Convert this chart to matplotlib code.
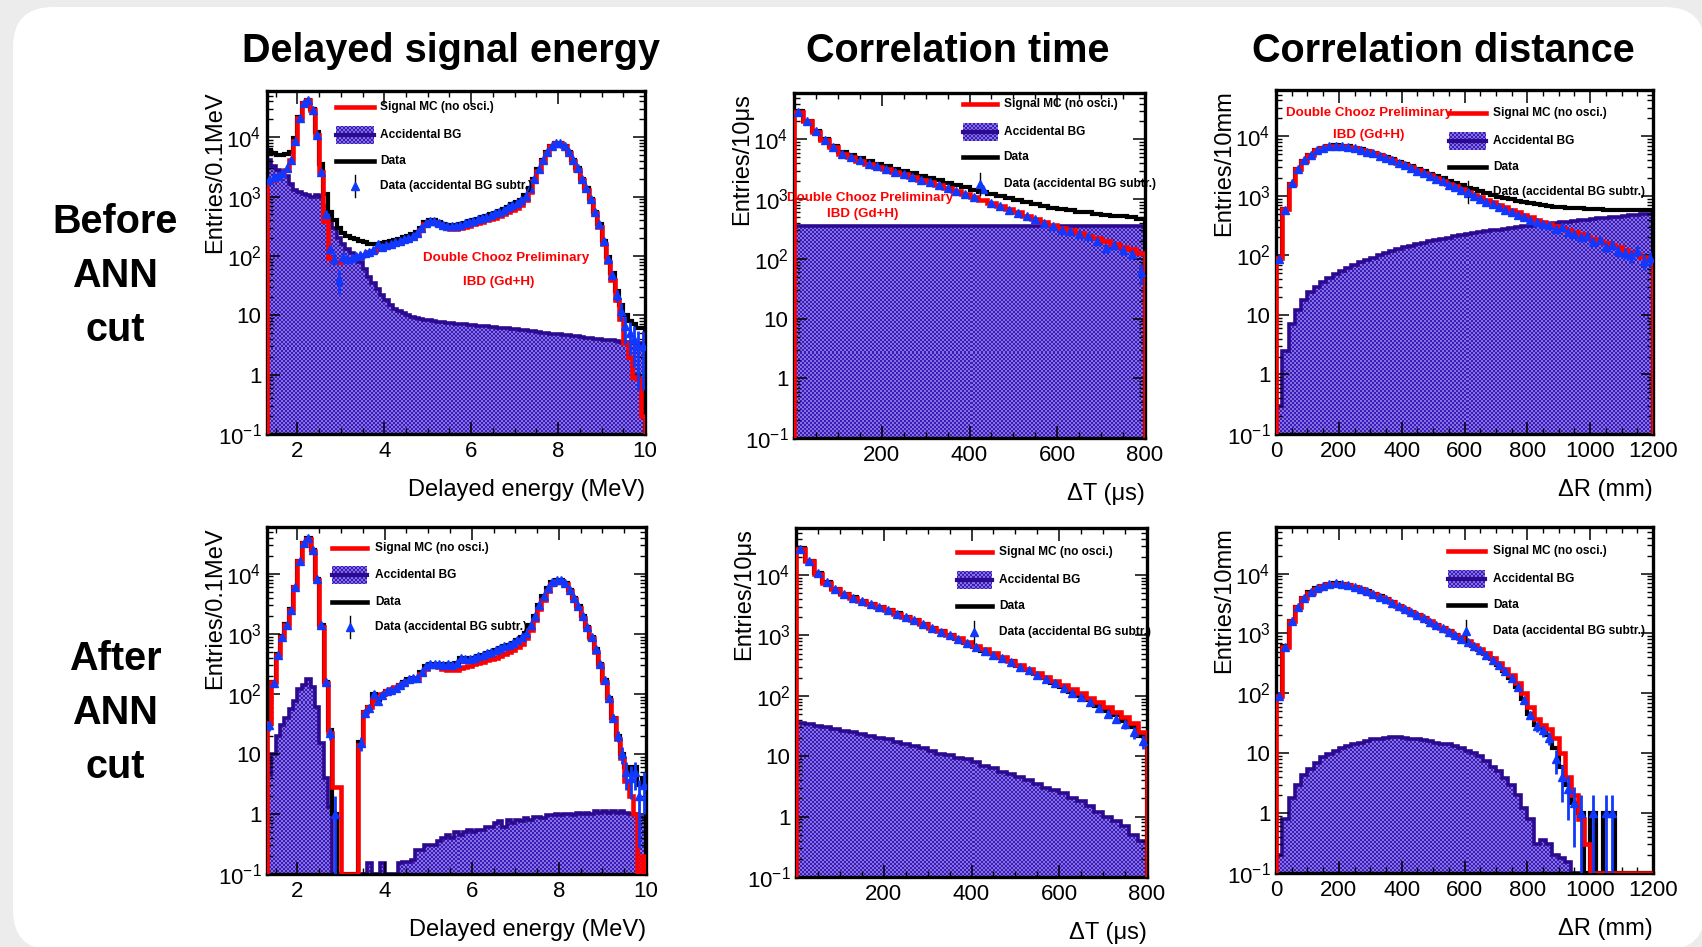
import numpy as np
import matplotlib
matplotlib.use('Agg')
import matplotlib.pyplot as plt
from matplotlib.patches import Rectangle, FancyBboxPatch
from matplotlib.colors import ListedColormap
from matplotlib.transforms import IdentityTransform
from matplotlib.ticker import MultipleLocator, LogLocator, NullFormatter

plt.rcParams['font.family'] = ['Liberation Sans', 'DejaVu Sans']
plt.rcParams['mathtext.fontset'] = 'custom'
plt.rcParams['mathtext.rm'] = 'Liberation Sans'
plt.rcParams['mathtext.it'] = 'Liberation Sans:italic'

##############################################################################
# data
# energy: 0.1 MeV bins from 1.3 to 10.0, dT: 20 us bins, dR: 20 mm bins

e_edges = np.round(np.linspace(1.3, 10.0, 88), 2)
t_edges = np.linspace(0, 800, 41)
r_edges = np.linspace(0, 1200, 61)

# before ANN cut, delayed energy
e_mc_before = [1800, 1900, 2100, 2400, 2800, 4100, 8500, 21000, 37000, 42000,
               29000, 11000, 2600, 380, 92, 80, 80, 85, 88, 90,
               95, 100, 105, 115, 122, 130, 138, 145, 152, 160,
               168, 175, 185, 200, 225, 275, 340, 375, 375, 340,
               310, 290, 280, 280, 290, 310, 320, 340, 355, 375,
               400, 420, 440, 470, 500, 550, 600, 650, 720, 880,
               1200, 1800, 2700, 3900, 5400, 7000, 7900, 7900, 7000, 5400,
               3900, 2800, 1900, 1300, 880, 520, 310, 160, 80, 40,
               18, 8.5, 3.4, 2.0, 0.9, 0.85, 0.2]
e_bg_before = [4100, 3300, 2800, 2500, 2200, 1600, 1300, 1200, 1100, 1050,
               1000, 1050, 1000, 700, 450, 300, 200, 160, 130, 110,
               95, 80, 60, 45, 35, 28, 22, 18, 15, 13,
               12, 11, 10, 9.5, 9.0, 8.6, 8.4, 8.2, 8.0, 7.8,
               7.6, 7.4, 7.3, 7.2, 7.1, 7.0, 6.9, 6.8, 6.7, 6.6,
               6.5, 6.4, 6.3, 6.2, 6.1, 6.0, 5.9, 5.8, 5.7, 5.6,
               5.5, 5.4, 5.2, 5.1, 5.0, 4.9, 4.8, 4.8, 4.7, 4.6,
               4.5, 4.4, 4.3, 4.2, 4.1, 4.0, 4.0, 3.9, 3.8, 3.8,
               3.7, 3.6, 3.6, 3.5, 3.4, 3.4, 3.3]
e_data_before = [6000, 5500, 5000, 5000, 5300, 5700, 9800, 22000, 38000, 43000,
                 30000, 12000, 3600, 1100, 560, 400, 290, 240, 215, 200,
                 190, 180, 170, 160, 160, 160, 165, 170, 175, 185,
                 195, 205, 215, 230, 250, 300, 370, 400, 400, 370,
                 345, 335, 330, 335, 345, 365, 385, 405, 425, 445,
                 470, 500, 530, 570, 610, 670, 740, 800, 880, 1050,
                 1400, 2000, 2900, 4100, 5600, 7200, 8100, 8100, 7200, 5700,
                 4100, 3000, 2000, 1400, 920, 560, 340, 180, 95, 52,
                 26, 15, 10, 8, 7, 6, 6]
e_sub_before = [1900, 2100, 2200, 2500, 3000, 4100, 8500, 21000, 37000, 42000,
                29000, 11000, 2600, 500, 130, 90, 40, 95, 90, 92,
                100, 105, 110, 115, 125, 160, 140, 150, 160, 170,
                180, 190, 200, 215, 240, 290, 360, 390, 390, 360,
                335, 325, 320, 325, 335, 360, 375, 395, 415, 435,
                460, 490, 520, 560, 600, 660, 730, 790, 870, 1040,
                1400, 2000, 2900, 4100, 5600, 7200, 8100, 8100, 7200, 5700,
                4100, 3000, 2000, 1400, 920, 560, 340, 175, 90, 48,
                22, 12, 6.5, 5, 4, 3, 3]

# after ANN cut, delayed energy
e_mc_after = [33, 158, 450, 900, 1400, 2500, 6000, 16000, 32000, 38000,
              24000, 8000, 1300, 150, 22, 2.8, 2.8, 0, 0, 0,
              0, 14, 50, 60, 80, 90, 100, 110, 120, 130,
              140, 150, 165, 175, 185, 210, 260, 290, 300, 280,
              260, 250, 245, 250, 265, 280, 295, 310, 325, 340,
              360, 380, 400, 430, 460, 500, 540, 600, 680, 850,
              1150, 1700, 2600, 3700, 5200, 6700, 7600, 7600, 6700, 5200,
              3800, 2700, 1800, 1250, 850, 500, 300, 160, 80, 40,
              18, 8.5, 3.5, 2.0, 1.0, 0, 0.2]
e_bg_after = [4.5, 10, 20, 30, 40, 55, 75, 120, 140, 180,
              130, 60, 15, 4, 1.3, 0, 0, 0, 0, 0,
              0, 0, 0.1, 0.15, 0.1, 0.1, 0.15, 0.1, 0.1, 0.1,
              0.15, 0.16, 0.16, 0.17, 0.25, 0.25, 0.3, 0.3, 0.3, 0.35,
              0.4, 0.45, 0.4, 0.5, 0.45, 0.5, 0.55, 0.5, 0.55, 0.55,
              0.6, 0.6, 0.7, 0.75, 0.6, 0.8, 0.7, 0.8, 0.75, 0.85,
              0.8, 0.9, 0.9, 0.85, 0.95, 0.95, 1.0, 0.95, 1.0, 1.0,
              0.95, 1.05, 1.0, 1.05, 1.0, 1.1, 1.05, 1.1, 1.05, 1.1,
              1.05, 1.1, 1.05, 1.0, 1.0, 0.9, 0.9]
e_data_after = [35, 160, 460, 920, 1450, 2600, 6100, 16500, 33000, 39000,
                25000, 8300, 1400, 160, 25, 1, 0, 0, 0, 0,
                0, 16, 50, 60, 100, 80, 95, 110, 115, 125,
                140, 155, 175, 185, 185, 230, 290, 320, 320, 310,
                300, 310, 300, 330, 400, 390, 380, 400, 420, 450,
                480, 500, 540, 580, 620, 650, 700, 780, 900, 1050,
                1400, 2000, 3000, 4200, 5800, 7200, 7800, 7800, 6900, 5400,
                4000, 2900, 2000, 1300, 900, 560, 320, 170, 85, 40,
                20, 10, 6, 5, 6, 3, 4]
e_sub_after = [30, 150, 440, 890, 1400, 2500, 6000, 16000, 33000, 39000,
               25000, 8200, 1400, 155, 22, 1, 0, 0, 0, 0,
               0, 15, 48, 58, 100, 75, 95, 110, 115, 125,
               140, 155, 175, 185, 185, 230, 290, 320, 320, 310,
               300, 310, 300, 330, 390, 385, 380, 400, 420, 450,
               480, 500, 540, 580, 620, 650, 700, 780, 900, 1050,
               1400, 2000, 3000, 4200, 5800, 7200, 7800, 7800, 6900, 5400,
               4000, 2900, 2000, 1300, 900, 560, 320, 170, 85, 40,
               20, 10, 5, 4, 5, 2, 3]

# before ANN cut, correlation time
t_mc_before = [29000, 20000, 13500, 9800, 7500, 5800, 5000, 4400, 3900, 3500,
               3200, 2900, 2600, 2350, 2120, 1920, 1730, 1550, 1390, 1240,
               1100, 980, 870, 770, 680, 600, 530, 470, 420, 370,
               330, 300, 270, 245, 220, 200, 180, 160, 145, 125]
t_bg_before = [355, 356, 354, 355, 357, 355, 354, 356, 355, 353,
               355, 356, 354, 355, 356, 355, 354, 355, 356, 355,
               354, 355, 356, 355, 354, 355, 356, 355, 354, 355,
               356, 355, 354, 355, 356, 355, 354, 355, 356, 355]
t_data_before = [29500, 20500, 14000, 10200, 7900, 6200, 5400, 4800, 4300, 3900,
                 3550, 3250, 2950, 2700, 2470, 2270, 2080, 1900, 1740, 1590,
                 1450, 1330, 1220, 1120, 1030, 950, 880, 820, 770, 720,
                 680, 650, 620, 600, 570, 550, 530, 520, 500, 470]
t_sub_before = [29000, 20000, 13600, 9800, 7500, 5800, 5000, 4450, 3950, 3550,
                3200, 2900, 2600, 2350, 2120, 1920, 1730, 1550, 1390, 1240,
                1100, 1500, 860, 760, 670, 590, 520, 460, 400, 360,
                310, 290, 260, 240, 200, 150, 170, 140, 120, 60]

# after ANN cut, correlation time
t_mc_after = [27000, 17000, 10500, 7500, 5800, 4800, 4200, 3700, 3300, 2900,
              2600, 2300, 2050, 1800, 1550, 1350, 1180, 1030, 900, 780,
              670, 590, 510, 440, 380, 320, 280, 240, 205, 175,
              150, 128, 110, 93, 78, 65, 54, 44, 35, 25]
t_bg_after = [36, 34, 32, 30, 28, 26, 25, 23, 22, 20,
              19, 17, 16, 15, 13.5, 12, 11, 10.5, 9.5, 9,
              8, 7, 6.5, 5.5, 5, 4.5, 4, 3.5, 3, 2.8,
              2.5, 2.0, 1.8, 1.5, 1.2, 1.0, 0.85, 0.7, 0.5, 0.4]
t_data_after = [27500, 17200, 10800, 7600, 5900, 4900, 4250, 3750, 3350, 2950,
                2650, 2350, 2050, 1800, 1570, 1330, 1170, 1020, 880, 760,
                650, 560, 490, 430, 370, 310, 270, 230, 195, 165,
                140, 115, 100, 85, 68, 55, 48, 38, 30, 22]
t_sub_after = [27400, 17100, 10700, 7550, 5850, 4850, 4200, 3700, 3300, 2900,
               2600, 2300, 2030, 1780, 1550, 1310, 1150, 1000, 870, 750,
               640, 550, 480, 420, 365, 305, 265, 225, 190, 160,
               135, 110, 95, 80, 62, 50, 42, 34, 25, 18]

# before ANN cut, correlation distance
r_mc_before = [90, 600, 1600, 2800, 3900, 4900, 5800, 6400, 6800, 7000,
               6900, 6700, 6400, 6000, 5600, 5200, 4800, 4400, 4000, 3600,
               3300, 3000, 2700, 2450, 2200, 2000, 1800, 1600, 1450, 1300,
               1150, 1050, 950, 860, 780, 700, 640, 580, 530, 480,
               440, 400, 370, 340, 310, 285, 265, 245, 225, 205,
               190, 175, 160, 148, 136, 125, 115, 105, 95, 88]
r_bg_before = [0.3, 2.5, 7, 12, 18, 24, 30, 36, 42, 48,
               54, 61, 68, 76, 84, 92, 100, 109, 118, 127,
               136, 145, 154, 163, 172, 181, 190, 199, 208, 217,
               226, 235, 244, 253, 262, 271, 280, 289, 298, 307,
               316, 325, 334, 343, 352, 361, 370, 380, 390, 400,
               410, 420, 430, 440, 450, 460, 470, 480, 490, 500]
r_data_before = [90, 600, 1610, 2810, 3920, 4920, 5830, 6440, 6840, 7050,
                 6950, 6760, 6470, 6080, 5680, 5290, 4900, 4510, 4120, 3730,
                 3440, 3150, 2860, 2610, 2370, 2180, 1990, 1800, 1660, 1520,
                 1380, 1290, 1190, 1110, 1040, 970, 920, 870, 830, 790,
                 760, 730, 705, 685, 660, 645, 635, 625, 615, 605,
                 600, 595, 590, 588, 586, 585, 585, 585, 585, 588]
r_sub_before = [88, 590, 1620, 2800, 3950, 4900, 5850, 6400, 6850, 7000,
                6900, 6700, 6350, 5950, 5550, 5150, 4750, 4350, 3950, 3550,
                3250, 2950, 2650, 2400, 2150, 1950, 1750, 1550, 1400, 1250,
                1100, 1000, 900, 800, 720, 650, 590, 540, 480, 440,
                400, 360, 340, 320, 280, 300, 250, 230, 200, 210,
                170, 180, 140, 150, 120, 110, 100, 120, 80, 90]

# after ANN cut, correlation distance
r_mc_after = [90, 600, 1600, 2800, 3900, 4800, 5600, 6200, 6600, 6800,
              6700, 6400, 6000, 5500, 5000, 4500, 4100, 3700, 3300, 2900,
              2600, 2300, 2050, 1800, 1600, 1400, 1250, 1100, 960, 850,
              740, 640, 550, 470, 390, 320, 260, 200, 150, 100,
              60, 38, 30, 25, 18, 10, 4, 2, 0.8, 0.3,
              0, 0, 0, 0, 0, 0, 0, 0, 0, 0]
r_bg_after = [0.2, 0.8, 1.8, 3, 4.3, 5.5, 7, 8.5, 9.8, 11,
              12, 13, 14, 15, 16, 17, 17.5, 18, 18.5, 18.5,
              18, 17.5, 17, 16.5, 16, 15, 14.5, 14, 13, 12,
              11, 10, 9, 7.5, 6, 5, 3.8, 3, 2, 1.2,
              0.8, 0.3, 0.35, 0.3, 0.2, 0.18, 0.15, 0, 0, 0,
              0, 0, 0, 0, 0, 0, 0, 0, 0, 0]
r_data_after = [92, 610, 1620, 2800, 3950, 4850, 5650, 6250, 6650, 6850,
                6750, 6450, 6050, 5550, 5050, 4550, 4150, 3750, 3300, 2900,
                2600, 2300, 2050, 1800, 1580, 1380, 1230, 1080, 950, 830,
                720, 620, 530, 450, 370, 300, 240, 180, 130, 80,
                45, 30, 25, 20, 12, 6, 3, 1.5, 1, 0,
                1, 0, 1, 1, 0, 0, 0, 0, 0, 0]
r_sub_after = [90, 605, 1615, 2800, 3945, 4845, 5640, 6240, 6640, 6840,
               6740, 6440, 6030, 5530, 5030, 4530, 4130, 3730, 3280, 2880,
               2580, 2280, 2030, 1780, 1560, 1365, 1215, 1070, 940, 820,
               710, 610, 520, 445, 365, 295, 235, 178, 128, 78,
               44, 28, 24, 18, 8, 4, 2.5, 1.5, 1, 0,
               1, 0, 1, 1, 0, 0, 0, 0, 0, 0]

col_titles = ['Delayed signal energy', 'Correlation time', 'Correlation distance']
row_titles = ['Before\nANN\ncut', 'After\nANN\ncut']
leg_labels = ['Signal MC (no osci.)', 'Accidental BG', 'Data', 'Data (accidental BG subtr.)']

##############################################################################
# style

W, H = 1702, 947
YMIN, YMAX = 0.1, 6e4
RED = '#ff0000'
BLUE = '#1038ff'
BG_DARK = '#2c0a90'
BG_FILL = '#3c1cb8'
checker_cmap = ListedColormap([BG_FILL, '#8470e0'])


def pix_axes(fig, l, t, r, b):
    return fig.add_axes([l / W, 1 - b / H, (r - l) / W, (b - t) / H])


def checker(ax, patch):
    bb = ax.get_position()
    w = int(bb.width * W / 2)
    h = int(bb.height * H / 2)
    ii, jj = np.indices((h, w))
    pat = ((ii + jj) % 2).astype(float)
    im = ax.imshow(pat, cmap=checker_cmap, extent=(0, 1, 0, 1), transform=ax.transAxes,
                   aspect='auto', interpolation='nearest', zorder=patch.get_zorder() + 0.05)
    im.set_clip_path(patch)


def floor(v):
    v = np.asarray(v, dtype=float)
    return np.where(v > 0, v, YMIN)


def panel(ax, edges, mc, bg, data, sub, xlim, xticks, xminor, ylabel, xlabel):
    ax.set_yscale('log')
    ax.set_autoscale_on(False)
    ax.set_xlim(*xlim)
    ax.set_ylim(YMIN, YMAX)

    bgp = ax.stairs(floor(bg), edges, fill=True, baseline=1e-3, facecolor=BG_FILL,
                    edgecolor='none', zorder=1)
    checker(ax, bgp)
    ax.stairs(floor(bg), edges, baseline=1e-3, color=BG_DARK, lw=2.6, zorder=1.2)
    ax.stairs(floor(data), edges, baseline=1e-3, color='black', lw=3.0, zorder=2)
    ax.stairs(floor(mc), edges, baseline=1e-3, color=RED, lw=3.3, zorder=3)

    centers = 0.5 * (edges[1:] + edges[:-1])
    sub = np.asarray(sub, dtype=float)
    err = np.sqrt(np.asarray(data, dtype=float))
    ok = sub > 0
    ax.errorbar(centers[ok], sub[ok], yerr=err[ok], fmt='^', ms=6, color=BLUE,
                mec=BLUE, elinewidth=2.0, capsize=0, zorder=4)

    ax.set_xticks(xticks)
    ax.xaxis.set_minor_locator(MultipleLocator(xminor))
    ax.set_yticks([0.1, 1, 10, 100, 1e3, 1e4])
    ax.set_yticklabels(['$10^{-1}$', '1', '10', '$10^{2}$', '$10^{3}$', '$10^{4}$'])
    ax.yaxis.set_minor_locator(LogLocator(base=10, subs=np.arange(2, 10)))
    ax.yaxis.set_minor_formatter(NullFormatter())
    ax.tick_params(which='both', direction='in', top=True, right=True)
    ax.tick_params(which='major', length=9, width=1.1)
    ax.tick_params(which='minor', length=4.5, width=1.0)
    ax.tick_params(axis='x', labelsize=16, pad=5)
    ax.tick_params(axis='y', labelsize=16, pad=4)
    for s in ax.spines.values():
        s.set_linewidth(2.4)

    bb = ax.get_position()
    wpx, hpx = bb.width * W, bb.height * H
    ax.text(-52 / wpx, 1.0, ylabel, rotation=90, ha='center', va='top',
            fontsize=17, transform=ax.transAxes)
    ax.text(1.0, -56 / hpx, xlabel, ha='right', va='center', fontsize=17,
            transform=ax.transAxes)


def legend(ax, x0, x1, xt, ys):
    tr = ax.transAxes
    bb = ax.get_position()
    hpx = bb.height * H
    ax.plot([x0, x1], [ys[0]] * 2, color=RED, lw=3.3, transform=tr, clip_on=False, zorder=6)
    bh = 18 / hpx
    box = Rectangle((x0, ys[1] - bh / 2), x1 - x0, bh, transform=tr, facecolor=BG_FILL,
                    edgecolor='none', zorder=6)
    ax.add_patch(box)
    checker(ax, box)
    ax.plot([x0, x1], [ys[1]] * 2, color=BG_DARK, lw=3, transform=tr, zorder=6.2)
    ax.plot([x0, x1], [ys[2]] * 2, color='black', lw=3.3, transform=tr, zorder=6)
    xm = 0.5 * (x0 + x1)
    ax.plot([xm, xm], [ys[3] - 11 / hpx, ys[3] + 11 / hpx], color='black', lw=1,
            transform=tr, zorder=6)
    ax.plot([xm], [ys[3]], marker='^', ms=6, color=BLUE, transform=tr, zorder=6.1)
    for y, lab in zip(ys, leg_labels):
        ax.text(xt, y, lab, ha='left', va='center', fontsize=8.6, fontweight='bold',
                transform=tr, zorder=7)


def prelim(ax, x1, y1, x2, y2):
    ax.text(x1, y1, 'Double Chooz Preliminary', color=RED, fontsize=9.6,
            fontweight='bold', ha='center', va='center', transform=ax.transAxes, zorder=2.5)
    ax.text(x2, y2, 'IBD (Gd+H)', color=RED, fontsize=9.6, fontweight='bold',
            ha='center', va='center', transform=ax.transAxes, zorder=2.5)


##############################################################################
# figure

fig = plt.figure(figsize=(W / 100, H / 100), dpi=100)
fig.patch.set_facecolor('#ececec')
card = FancyBboxPatch((13, -3), 1692, 943, boxstyle='round,pad=0,rounding_size=40',
                      transform=IdentityTransform(), facecolor='white', edgecolor='none',
                      zorder=-10)
fig.add_artist(card)

for x, t in zip([451, 958, 1443], col_titles):
    fig.text(x / W, 1 - 51 / H, t, ha='center', va='center', fontsize=28.5, fontweight='bold')
for y, t in zip([276, 713], row_titles):
    fig.text(115 / W, 1 - y / H, t, ha='center', va='center', fontsize=28.5,
             fontweight='bold', linespacing=1.52)

# top row: before ANN cut
ax = pix_axes(fig, 267, 91, 645, 434)
panel(ax, e_edges, e_mc_before, e_bg_before, e_data_before, e_sub_before, (1.3, 10),
      [2, 4, 6, 8, 10], 0.5, 'Entries/0.1MeV', 'Delayed energy (MeV)')
legend(ax, 0.183, 0.283, 0.299, [0.953, 0.872, 0.796, 0.723])
prelim(ax, 0.632, 0.513, 0.613, 0.443)

ax = pix_axes(fig, 794, 93, 1145, 438)
panel(ax, t_edges, t_mc_before, t_bg_before, t_data_before, t_sub_before, (0, 800),
      [200, 400, 600, 800], 50, 'Entries/10μs', 'ΔT (μs)')
legend(ax, 0.481, 0.578, 0.597, [0.968, 0.887, 0.814, 0.736])
prelim(ax, 0.217, 0.696, 0.197, 0.649)

ax = pix_axes(fig, 1276, 90, 1653, 434)
panel(ax, r_edges, r_mc_before, r_bg_before, r_data_before, r_sub_before, (0, 1200),
      [0, 200, 400, 600, 800, 1000, 1200], 50, 'Entries/10mm', 'ΔR (mm)')
legend(ax, 0.459, 0.557, 0.576, [0.933, 0.852, 0.776, 0.703])
prelim(ax, 0.247, 0.933, 0.247, 0.869)

# bottom row: after ANN cut
ax = pix_axes(fig, 267, 527, 646, 874)
panel(ax, e_edges, e_mc_after, e_bg_after, e_data_after, e_sub_after, (1.3, 10),
      [2, 4, 6, 8, 10], 0.5, 'Entries/0.1MeV', 'Delayed energy (MeV)')
legend(ax, 0.172, 0.264, 0.285, [0.939, 0.862, 0.784, 0.712])

ax = pix_axes(fig, 796, 528, 1147, 877)
panel(ax, t_edges, t_mc_after, t_bg_after, t_data_after, t_sub_after, (0, 800),
      [200, 400, 600, 800], 50, 'Entries/10μs', 'ΔT (μs)')
legend(ax, 0.459, 0.558, 0.578, [0.931, 0.851, 0.777, 0.702])

ax = pix_axes(fig, 1276, 527, 1653, 873)
panel(ax, r_edges, r_mc_after, r_bg_after, r_data_after, r_sub_after, (0, 1200),
      [0, 200, 400, 600, 800, 1000, 1200], 50, 'Entries/10mm', 'ΔR (mm)')
legend(ax, 0.456, 0.554, 0.576, [0.931, 0.850, 0.775, 0.699])

fig.savefig('out.png', dpi=100)
